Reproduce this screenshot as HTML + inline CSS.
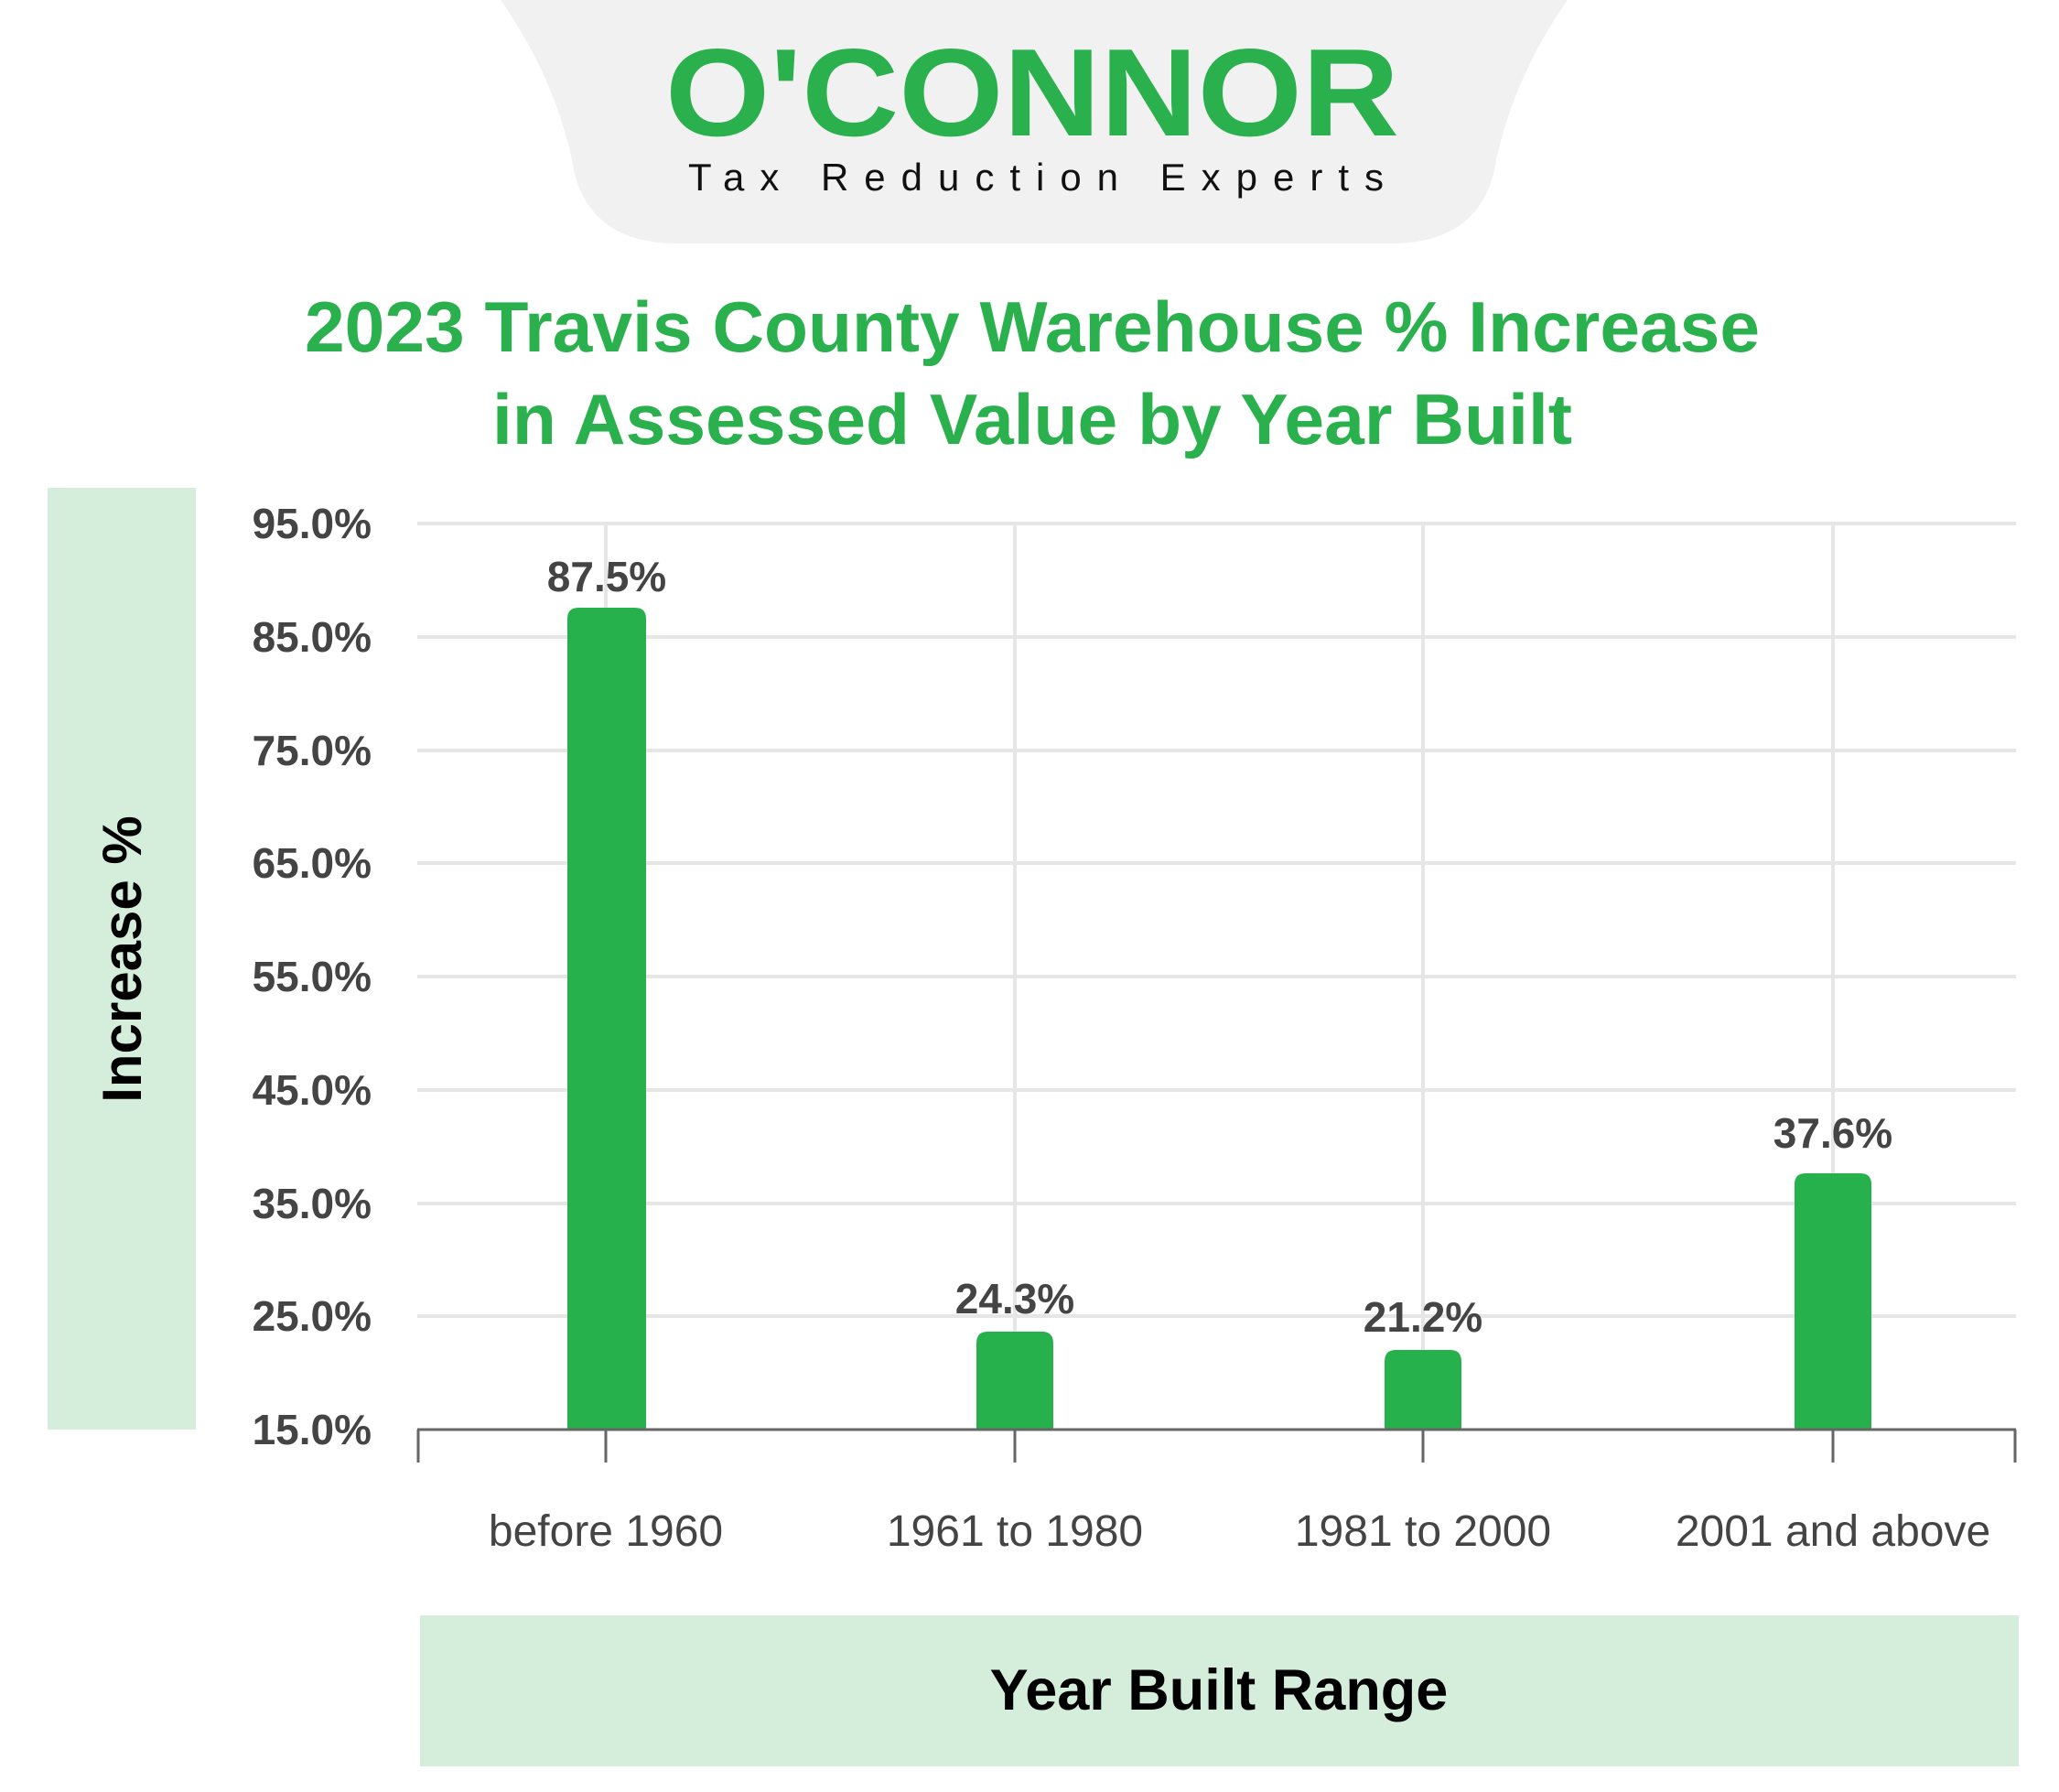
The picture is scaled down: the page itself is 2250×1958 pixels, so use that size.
<!DOCTYPE html>
<html><head><meta charset="utf-8"><style>
html,body{margin:0;padding:0;background:#fff;}
svg{display:block;}
text{font-family:"Liberation Sans",sans-serif;}
</style></head><body>
<svg width="2250" height="1958" viewBox="0 0 2250 1958" xmlns="http://www.w3.org/2000/svg">
<path d="M547 0 Q610 90 628 190 Q648 266 740 266 L1520 266 Q1612 266 1632 190 Q1650 90 1713 0 Z" fill="#f1f1f1"/>
<text x="1128" y="148" text-anchor="middle" font-size="136" font-weight="bold" fill="#2ab04d" textLength="802" lengthAdjust="spacingAndGlyphs">O'CONNOR</text>
<text x="1132" y="208" text-anchor="middle" font-size="42" fill="#111" textLength="760" lengthAdjust="spacing">Tax Reduction Experts</text>
<text x="1128" y="384" text-anchor="middle" font-size="78" font-weight="bold" fill="#2ab04d" textLength="1590" lengthAdjust="spacingAndGlyphs">2023 Travis County Warehouse % Increase</text>
<text x="1128" y="485" text-anchor="middle" font-size="78" font-weight="bold" fill="#2ab04d" textLength="1180" lengthAdjust="spacingAndGlyphs">in Assessed Value by Year Built</text>
<rect x="52" y="533" width="162" height="1029" fill="#d4eedb"/>
<text transform="translate(154,1048) rotate(-90)" text-anchor="middle" font-size="60" font-weight="bold" fill="#000">Increase %</text>
<g stroke="#e6e6e6" stroke-width="4">
<line x1="456" y1="572" x2="2203" y2="572"/><line x1="456" y1="696" x2="2203" y2="696"/>
<line x1="456" y1="820" x2="2203" y2="820"/><line x1="456" y1="943" x2="2203" y2="943"/>
<line x1="456" y1="1067" x2="2203" y2="1067"/><line x1="456" y1="1191" x2="2203" y2="1191"/>
<line x1="456" y1="1315" x2="2203" y2="1315"/><line x1="456" y1="1438" x2="2203" y2="1438"/>
<line x1="662" y1="572" x2="662" y2="1562"/><line x1="1109" y1="572" x2="1109" y2="1562"/>
<line x1="1555" y1="572" x2="1555" y2="1562"/><line x1="2003" y1="572" x2="2003" y2="1562"/>
</g>
<g font-size="46" font-weight="bold" fill="#444" text-anchor="end">
<text x="406" y="588">95.0%</text><text x="406" y="712">85.0%</text><text x="406" y="836">75.0%</text>
<text x="406" y="959">65.0%</text><text x="406" y="1083">55.0%</text><text x="406" y="1207">45.0%</text>
<text x="406" y="1331">35.0%</text><text x="406" y="1454">25.0%</text><text x="406" y="1578">15.0%</text>
</g>
<g fill="#27b14c">
<path d="M620 1562 V676 Q620 664 632 664 H694 Q706 664 706 676 V1562 Z"/>
<path d="M1067 1562 V1468 Q1067 1455 1079 1455 H1139 Q1151 1455 1151 1468 V1562 Z"/>
<path d="M1513 1562 V1488 Q1513 1475 1525 1475 H1585 Q1597 1475 1597 1488 V1562 Z"/>
<path d="M1961 1562 V1294 Q1961 1282 1973 1282 H2033 Q2045 1282 2045 1294 V1562 Z"/>
</g>
<g font-size="46" font-weight="bold" fill="#444" text-anchor="middle">
<text x="663" y="646">87.5%</text><text x="1109" y="1435">24.3%</text>
<text x="1555" y="1455">21.2%</text><text x="2003" y="1254">37.6%</text>
</g>
<g stroke="#666" stroke-width="3">
<line x1="456" y1="1562" x2="2203" y2="1562"/>
<line x1="457" y1="1562" x2="457" y2="1598"/><line x1="662" y1="1562" x2="662" y2="1598"/>
<line x1="1109" y1="1562" x2="1109" y2="1598"/><line x1="1555" y1="1562" x2="1555" y2="1598"/>
<line x1="2003" y1="1562" x2="2003" y2="1598"/><line x1="2202" y1="1562" x2="2202" y2="1598"/>
</g>
<g font-size="48" fill="#444" text-anchor="middle">
<text x="662" y="1689">before 1960</text><text x="1109" y="1689">1961 to 1980</text>
<text x="1555" y="1689">1981 to 2000</text><text x="2003" y="1689">2001 and above</text>
</g>
<rect x="459" y="1765" width="1747" height="165" fill="#d4eedb"/>
<text x="1332" y="1868" text-anchor="middle" font-size="63" font-weight="bold" fill="#000">Year Built Range</text>
</svg>
</body></html>
